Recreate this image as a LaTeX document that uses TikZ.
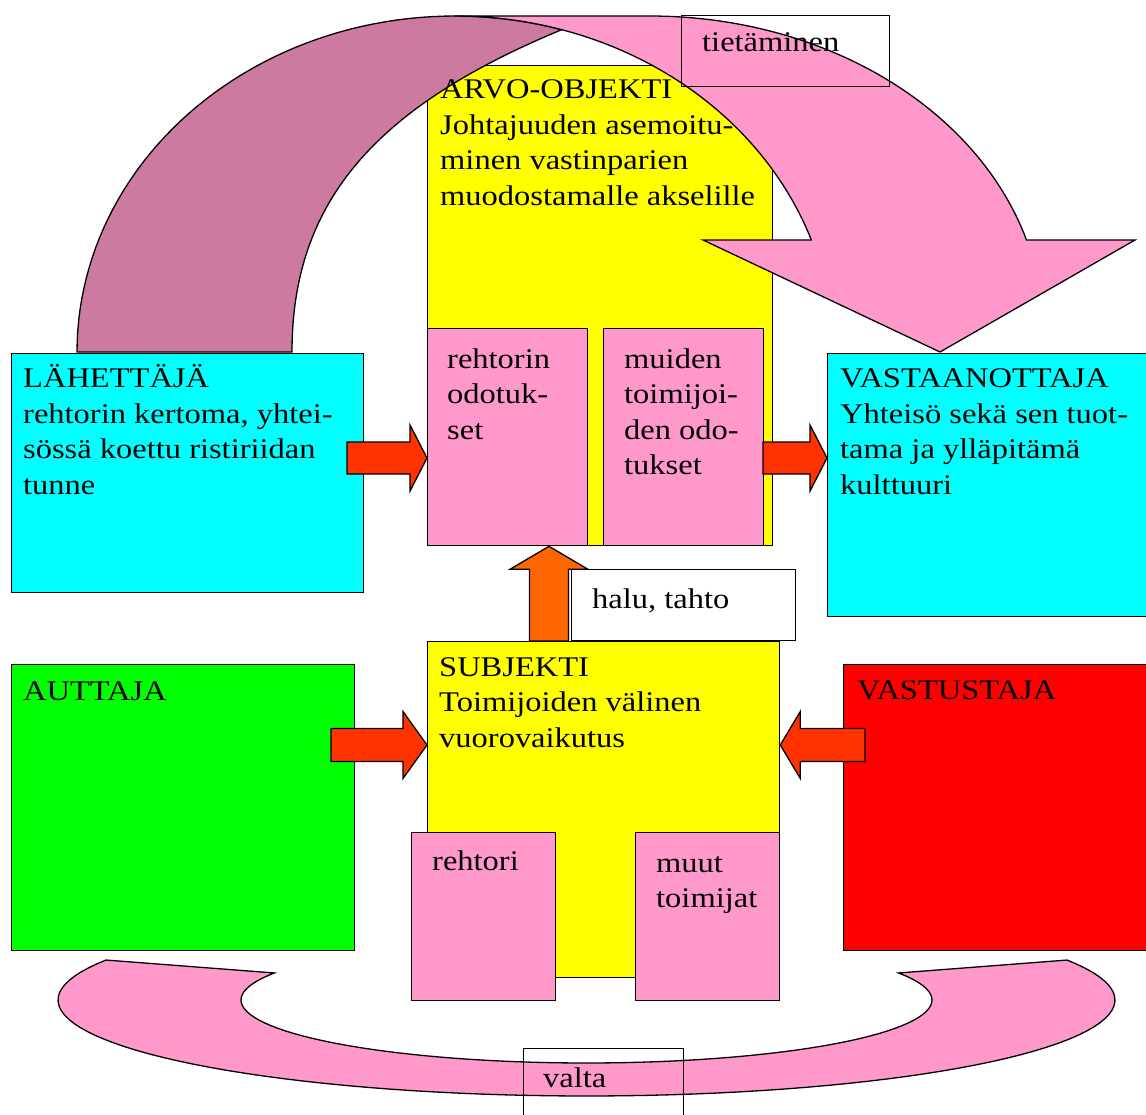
\documentclass[tikz,border=0pt]{standalone}
\usepackage{fontspec}
\setmainfont{Liberation Serif}[FakeStretch=1.14]
\usetikzlibrary{calc}

\definecolor{pinkfill}{HTML}{FF99CC}
\definecolor{mauvefill}{HTML}{CC7AA0}
\definecolor{arrowred}{HTML}{FF3300}
\definecolor{arroworange}{HTML}{FF6600}
\definecolor{boxcyan}{HTML}{00FFFF}
\definecolor{boxyellow}{HTML}{FFFF00}
\definecolor{boxgreen}{HTML}{00FF00}
\definecolor{boxred}{HTML}{FF0000}

\tikzset{
  outline/.style={draw=black, line width=1.3pt, line join=miter},
  box/.style={outline, rectangle, anchor=north west, inner sep=0pt},
  tagbox/.style={draw=black, line width=0.8pt, rectangle, anchor=north west, inner sep=0pt},
  % base west of a multi-line text is the baseline of its last line
  txt/.style={anchor=base west, align=left, inner sep=0pt,
    font=\fontsize{28.5}{35.5}\selectfont},
  blockarrow/.style={outline, fill=arrowred},
}

% horizontal block arrow: [style]{tail}{tip}{shaft half}{head half}{head length}
\newcommand{\harrow}[6][]{%
  \path[blockarrow,#1] let \p1=(#2), \p2=(#3), \n1={sign(\x2-\x1)} in
    (\x1,\y1+#4) -- ({\x2-\n1*#6},\y1+#4) -- ({\x2-\n1*#6},\y1+#5)
    -- (\x2,\y1) -- ({\x2-\n1*#6},\y1-#5) -- ({\x2-\n1*#6},\y1-#4)
    -- (\x1,\y1-#4) -- cycle;}
% vertical block arrow pointing up: [style]{tail}{tip}{shaft half}{head half}{head length}
\newcommand{\uparrowshape}[6][]{%
  \path[blockarrow,#1] let \p1=(#2), \p2=(#3) in
    (\x1-#4,\y1) -- (\x1-#4,\y2-#6) -- (\x1-#5,\y2-#6) -- (\x1,\y2)
    -- (\x1+#5,\y2-#6) -- (\x1+#4,\y2-#6) -- (\x1+#4,\y1) -- cycle;}

\begin{document}
\begin{tikzpicture}[x=1pt,y=-1pt]
\useasboundingbox (0,0) rectangle (1146,1115);

% value-object column
\node[box, fill=boxyellow, minimum width=345pt, minimum height=480pt] (arvo) at (427,65) {};

% curved arrow over the top: back leg (shaded) and front band with head
\filldraw[outline, fill=mauvefill]
  plot[domain=180:73.6, samples=60] ({455+378*cos(\x)},{352-336*sin(\x)})
  .. controls (375,107) and (292,202) .. (292,352)
  -- cycle;
\filldraw[outline, fill=pinkfill]
  (455,16) -- (650,16)
  -- plot[domain=90:16.65, samples=60] ({650+393*cos(\x)},{330-314*sin(\x)})
  -- (1135,240) -- (940,352) -- (703,240)
  -- plot[domain=19.47:90, samples=60] ({455+378*cos(\x)},{352-336*sin(\x)})
  -- cycle;

% expectations inside the value object
\node[box, fill=pinkfill, minimum width=160pt, minimum height=217pt] (odotA) at (427,328) {};
\node[box, fill=pinkfill, minimum width=160pt, minimum height=217pt] (odotB) at (603,328) {};

% sender and receiver
\node[box, fill=boxcyan, minimum width=352pt, minimum height=239pt] (lah) at (11,353) {};
\node[box, fill=boxcyan, minimum width=340pt, minimum height=263pt] (vast) at (827,353) {};

% label frame on the curved arrow
\node[tagbox, minimum width=208pt, minimum height=71pt] (tiet) at (681,15) {};

% subject, helper, opponent
\node[box, fill=boxyellow, minimum width=352pt, minimum height=336pt] (subj) at (427,641) {};
\node[box, fill=pinkfill, minimum width=144pt, minimum height=168pt] (reht) at (411,832) {};
\node[box, fill=pinkfill, minimum width=144pt, minimum height=168pt] (muut) at (635,832) {};
\node[box, fill=boxgreen, minimum width=343pt, minimum height=286pt] (autt) at (11,664) {};
\node[box, fill=boxred, minimum width=330pt, minimum height=286pt] (vastus) at (843,664) {};

% block arrows between the actants
\coordinate (a1) at (347,458);
\harrow{a1}{arvo.west |- a1}{16pt}{33pt}{17pt}
\coordinate (a2) at (763,458);
\harrow{a2}{vast.west |- a2}{16pt}{33pt}{17pt}
\coordinate (a3) at (331,745);
\harrow{a3}{subj.west |- a3}{16.5pt}{33.5pt}{24pt}
\coordinate (a4) at (865,745);
\harrow{a4}{subj.east |- a4}{16.5pt}{33.5pt}{20pt}
\coordinate (a5) at (549,641);
\uparrowshape[fill=arroworange]{a5}{arvo.south -| a5}{19.5pt}{39pt}{23pt}

% will label
\node[box, fill=white, minimum width=224pt, minimum height=71pt] (halu) at (571,569) {};

% power ring at the bottom
\filldraw[outline, fill=pinkfill]
  plot[domain=155.4:384.6, samples=90] ({586.5+528.5*cos(\x)},{1000-96*sin(\x)})
  -- plot[domain=-25.4:205.4, samples=90] ({586.5+345.5*cos(\x)},{1000+63*sin(\x)})
  -- cycle;
\node[tagbox, minimum width=160pt, minimum height=82pt] (valta) at (523,1048) {};

% texts (positions are the baselines of the last lines)
\node[txt] (lahT) at (23,494) {LÄHETTÄJÄ\\rehtorin kertoma, yhtei-\\sössä koettu ristiriidan\\tunne};
\node[txt] (arvoT) at (440,205.5) {ARVO-OBJEKTI\\Johtajuuden asemoitu-\\minen vastinparien\\muodostamalle akselille};
\node[txt] (odotAT) at (447,439) {rehtorin\\odotuk-\\set};
\node[txt] (odotBT) at (624,474.5) {muiden\\toimijoi-\\den odo-\\tukset};
\node[txt] (vastT) at (840,494) {VASTAANOTTAJA\\Yhteisö sekä sen tuot-\\tama ja ylläpitämä\\kulttuuri};
\node[txt] (haluT) at (592,608) {halu, tahto};
\node[txt] (subjT) at (439,747) {SUBJEKTI\\Toimijoiden välinen\\vuorovaikutus};
\node[txt] (auttT) at (23,700) {AUTTAJA};
\node[txt] (vastusT) at (857,699) {VASTUSTAJA};
\node[txt] (rehtT) at (432,870) {rehtori};
\node[txt] (muutT) at (656,907.5) {muut\\toimijat};
\node[txt] (tietT) at (702,52) {tietäminen};
\node[txt] (valtaT) at (543,1087) {valta};
\end{tikzpicture}
\end{document}
